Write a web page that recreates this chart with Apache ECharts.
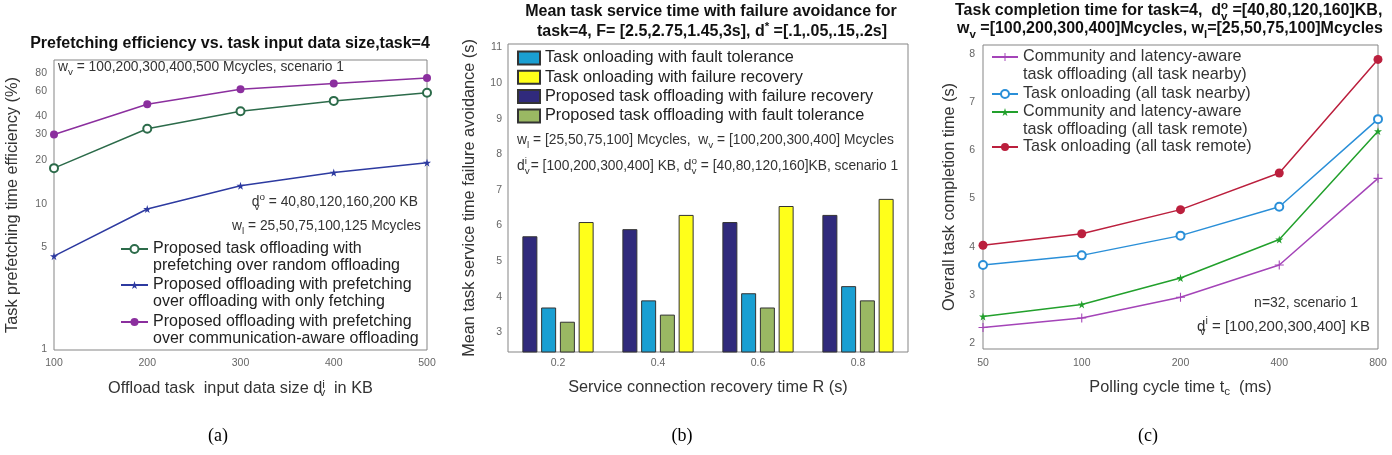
<!DOCTYPE html>
<html><head><meta charset="utf-8">
<script src="https://cdn.jsdelivr.net/npm/echarts@6/dist/echarts.min.js"></script>
<style>html,body{margin:0;padding:0;background:#fff}#c{width:1392px;height:455px}</style>
</head><body><div id="c"></div>
<script>
// ---------- data: (a) prefetching efficiency ----------
const aSizes = [100, 200, 300, 400, 500];
const aRandom = [17.6, 32.9, 43.4, 51.2, 58.2];
const aFetch = [4.35, 9.2, 13.3, 16.4, 19.2];
const aComm = [30, 48.5, 61.7, 67.6, 73.5];
const aYTicks = [1, 5, 10, 20, 30, 40, 60, 80];
// ---------- data: (b) mean task service time ----------
const bR = ['0.2', '0.4', '0.6', '0.8'];
const bPropRecovery = [5.7, 5.9, 6.1, 6.3];
const bOnFault = [3.7, 3.9, 4.1, 4.3];
const bPropFault = [3.3, 3.5, 3.7, 3.9];
const bOnRecovery = [6.1, 6.3, 6.55, 6.75];
const bYTicks = [3, 4, 5, 6, 7, 8, 9, 10, 11];
// ---------- data: (c) task completion time ----------
const cPoll = ['50', '100', '200', '400', '800'];
const cCommNear = [2.32, 2.52, 2.95, 3.62, 5.42];
const cOnNear = [3.62, 3.82, 4.23, 4.83, 6.65];
const cCommRemote = [2.55, 2.8, 3.35, 4.15, 6.4];
const cOnRemote = [4.03, 4.27, 4.77, 5.53, 7.89];
const cYTicks = [2, 3, 4, 5, 6, 7, 8];

// ---------- names ----------
const aNames = ['Proposed task offloading with\nprefetching over random offloading',
  'Proposed offloading with prefetching\nover offloading with only fetching',
  'Proposed offloading with prefetching\nover communication-aware offloading'];
const bNames = ['Task onloading with fault tolerance', 'Task onloading with failure recovery',
  'Proposed task offloading with failure recovery', 'Proposed task offloading with fault tolerance'];
const cNames = ['Community and latency-aware\ntask offloading (all task nearby)', 'Task onloading (all task nearby)',
  'Community and latency-aware\ntask offloading (all task remote)', 'Task onloading (all task remote)'];

const F = '"Liberation Sans", Arial, Helvetica, sans-serif';
function richSet(fs, color, weight) {
  const base = {fontFamily: F, fontWeight: weight || 'normal', color: color, fill: color};
  const s = Math.round(fs * 0.72 * 10) / 10;
  return {
    sub: Object.assign({}, base, {fontSize: s, lineHeight: s, verticalAlign: 'bottom'}),
    sup: Object.assign({}, base, {fontSize: s, lineHeight: s, verticalAlign: 'top'}),
    sub0: Object.assign({}, base, {fontSize: s, lineHeight: s, verticalAlign: 'bottom', width: 0})
  };
}
function gtext(x, y, text, fs, opt) {
  opt = opt || {};
  const color = opt.color || '#333';
  return {
    type: 'text', x: x, y: y, silent: true, z: 50,
    style: {
      text: text, fill: color, fontSize: fs, fontFamily: opt.family || F, fontWeight: opt.weight || 'normal',
      align: opt.align || 'left', verticalAlign: 'middle', lineHeight: Math.round(fs * 1.45),
      rich: richSet(fs, color, opt.weight)
    }
  };
}

const starPath = 'path://M50,0 L61,35 L98,35 L68,57 L79,91 L50,70 L21,91 L32,57 L2,35 L39,35 Z';
const plusPath = 'path://M4.4,0H5.6V4.4H10V5.6H5.6V10H4.4V5.6H0V4.4H4.4Z';

const tickLbl = {color: '#666', fontSize: 10.5, fontFamily: F};
const NFS = 16.3;
const nameStyle = {color: '#333', fontSize: NFS, fontFamily: F, lineHeight: 20};
const gridBase = {show: true, borderColor: '#858585', borderWidth: 1, backgroundColor: 'transparent', containLabel: false};
const noLine = {show: false};

const aColors = ['#2c6b4a', '#2d3aa0', '#8b2f9e'];
const bColors = {onFault: '#1a9fd2', onRec: '#ffff1a', propRec: '#302a7c', propFault: '#9ab863'};
const cColors = ['#a444b8', '#2a8fd8', '#22a02c', '#bb1f3d'];

function pairs(xs, ys) { return xs.map((x, i) => [x, ys[i]]); }
// prefix an empty line so the legend symbol lines up with the first text line
const firstLine = n => (n.indexOf('\n') >= 0 ? '\n' + n : n);

const option = {
  animation: false,
  backgroundColor: '#fff',
  grid: [
    Object.assign({left: 54, top: 60, width: 373, height: 290}, gridBase),
    Object.assign({left: 508, top: 44, width: 400, height: 308}, gridBase),
    Object.assign({left: 983, top: 45, width: 395, height: 304}, gridBase)
  ],
  xAxis: [
    {gridIndex: 0, type: 'value', min: 100, max: 500, interval: 100, axisLine: noLine, axisTick: noLine,
      splitLine: noLine, axisLabel: Object.assign({margin: 8}, tickLbl),
      name: 'Offload task  input data size d{sub0|v}{sup|i}  in KB', nameLocation: 'middle', nameGap: 29,
      nameTextStyle: Object.assign({rich: richSet(NFS, '#333')}, nameStyle)},
    {gridIndex: 1, type: 'category', data: bR, axisLine: noLine, axisTick: noLine,
      axisLabel: Object.assign({margin: 6}, tickLbl),
      name: 'Service connection recovery time R (s)', nameLocation: 'middle', nameGap: 26, nameTextStyle: nameStyle},
    {gridIndex: 2, type: 'category', data: cPoll, boundaryGap: false, axisLine: noLine, axisTick: noLine,
      axisLabel: Object.assign({margin: 9}, tickLbl),
      name: 'Polling cycle time t{sub|c}  (ms)', nameLocation: 'middle', nameGap: 29,
      nameTextStyle: Object.assign({rich: richSet(NFS, '#333')}, nameStyle)}
  ],
  yAxis: [
    {gridIndex: 0, type: 'log', logBase: 10, min: 0.98, max: 98, axisLine: noLine, axisTick: noLine, splitLine: noLine,
      axisLabel: Object.assign({margin: 7, customValues: aYTicks}, tickLbl),
      name: 'Task prefetching time efficiency (%)', nameLocation: 'middle', nameGap: 31, nameTextStyle: nameStyle},
    {gridIndex: 1, type: 'value', min: 2.45, max: 11.1, axisLine: noLine, axisTick: noLine, splitLine: noLine,
      axisLabel: Object.assign({margin: 6, customValues: bYTicks}, tickLbl),
      name: 'Mean task service time failure avoidance (s)', nameLocation: 'middle', nameGap: 28, nameTextStyle: nameStyle},
    {gridIndex: 2, type: 'value', min: 1.875, max: 8.19, axisLine: noLine, axisTick: noLine, splitLine: noLine,
      axisLabel: Object.assign({margin: 8, customValues: cYTicks}, tickLbl),
      name: 'Overall task completion time (s)', nameLocation: 'middle', nameGap: 23, nameTextStyle: nameStyle}
  ],
  legend: [
    ...[0, 1, 2].map(i => ({
      data: [aNames[i]], orient: 'vertical', left: 120, top: [249, 285, 322][i] - 25.5, padding: 0,
      itemWidth: 27, itemHeight: 10, selectedMode: false, formatter: firstLine,
      textStyle: {color: '#222', fontSize: 16, fontFamily: F, lineHeight: 17}
    })),
    {data: bNames, orient: 'vertical', left: 517, top: 48.5, padding: 0, itemGap: 0.3, itemWidth: 22, itemHeight: 13,
      icon: 'rect', selectedMode: false,
      textStyle: {color: '#222', fontSize: 16.3, fontFamily: F, lineHeight: 19}},
    ...[0, 1, 2, 3].map(i => {
      const two = cNames[i].indexOf('\n') >= 0;
      const y = [57, 94, 112, 147][i];
      return {
        data: [cNames[i]], orient: 'vertical', left: 991, top: two ? y - 27 : y - 9, padding: 0,
        itemWidth: 26, itemHeight: 10, selectedMode: false, formatter: firstLine,
        textStyle: {color: '#333', fontSize: 16.2, fontFamily: F, lineHeight: 18}
      };
    })
  ],
  series: [
    {name: aNames[0], type: 'line', xAxisIndex: 0, yAxisIndex: 0, data: pairs(aSizes, aRandom),
      symbol: 'emptyCircle', symbolSize: 8, color: aColors[0], lineStyle: {width: 1.5, color: aColors[0]},
      itemStyle: {color: aColors[0], borderWidth: 1.5}},
    {name: aNames[1], type: 'line', xAxisIndex: 0, yAxisIndex: 0, data: pairs(aSizes, aFetch),
      symbol: starPath, symbolSize: 8, color: aColors[1], lineStyle: {width: 1.5, color: aColors[1]},
      itemStyle: {color: aColors[1]}},
    {name: aNames[2], type: 'line', xAxisIndex: 0, yAxisIndex: 0, data: pairs(aSizes, aComm),
      symbol: 'circle', symbolSize: 8, color: aColors[2], lineStyle: {width: 1.5, color: aColors[2]},
      itemStyle: {color: aColors[2]}},

    {name: bNames[2], type: 'bar', xAxisIndex: 1, yAxisIndex: 1, data: bPropRecovery, barWidth: 15, barGap: '25%',
      itemStyle: {color: bColors.propRec, borderColor: '#333', borderWidth: 1}},
    {name: bNames[0], type: 'bar', xAxisIndex: 1, yAxisIndex: 1, data: bOnFault, barWidth: 15, barGap: '25%',
      itemStyle: {color: bColors.onFault, borderColor: '#333', borderWidth: 1}},
    {name: bNames[3], type: 'bar', xAxisIndex: 1, yAxisIndex: 1, data: bPropFault, barWidth: 15, barGap: '25%',
      itemStyle: {color: bColors.propFault, borderColor: '#333', borderWidth: 1}},
    {name: bNames[1], type: 'bar', xAxisIndex: 1, yAxisIndex: 1, data: bOnRecovery, barWidth: 15, barGap: '25%',
      itemStyle: {color: bColors.onRec, borderColor: '#333', borderWidth: 1}},

    {name: cNames[0], type: 'line', xAxisIndex: 2, yAxisIndex: 2, data: cCommNear,
      symbol: plusPath, symbolSize: 9, color: cColors[0], lineStyle: {width: 1.5, color: cColors[0]},
      itemStyle: {color: cColors[0]}},
    {name: cNames[1], type: 'line', xAxisIndex: 2, yAxisIndex: 2, data: cOnNear,
      symbol: 'emptyCircle', symbolSize: 8, color: cColors[1], lineStyle: {width: 1.5, color: cColors[1]},
      itemStyle: {color: cColors[1], borderWidth: 1.5}},
    {name: cNames[2], type: 'line', xAxisIndex: 2, yAxisIndex: 2, data: cCommRemote,
      symbol: starPath, symbolSize: 8, color: cColors[2], lineStyle: {width: 1.5, color: cColors[2]},
      itemStyle: {color: cColors[2]}},
    {name: cNames[3], type: 'line', xAxisIndex: 2, yAxisIndex: 2, data: cOnRemote,
      symbol: 'circle', symbolSize: 9, color: cColors[3], lineStyle: {width: 1.5, color: cColors[3]},
      itemStyle: {color: cColors[3]}}
  ],
  graphic: [
    // titles
    gtext(230, 44, 'Prefetching efficiency vs. task input data size,task=4', 16, {weight: 'bold', align: 'center', color: '#111'}),
    gtext(711, 12, 'Mean task service time with failure avoidance for', 16, {weight: 'bold', align: 'center', color: '#111'}),
    gtext(712, 32, 'task=4, F= [2.5,2.75,1.45,3s], d{sup|*} =[.1,.05,.15,.2s]', 16, {weight: 'bold', align: 'center', color: '#111'}),
    gtext(955, 11, 'Task completion time for task=4,  d{sub0|v}{sup|o} =[40,80,120,160]KB,', 16, {weight: 'bold', color: '#111'}),
    gtext(957, 29, 'w{sub|v} =[100,200,300,400]Mcycles, w{sub|l}=[25,50,75,100]Mcycles', 16, {weight: 'bold', color: '#111'}),
    // (a) notes
    gtext(58, 67, 'w{sub|v} = 100,200,300,400,500 Mcycles, scenario 1', 13.8),
    gtext(418, 202, 'd{sub0|v}{sup|o} = 40,80,120,160,200 KB', 13.8, {align: 'right'}),
    gtext(421, 226, 'w{sub|l} = 25,50,75,100,125 Mcycles', 13.8, {align: 'right'}),
    // (b) notes
    gtext(517, 140, 'w{sub|l} = [25,50,75,100] Mcycles,  w{sub|v} = [100,200,300,400] Mcycles', 13.8),
    gtext(517, 166, 'd{sub0|v}{sup|i} = [100,200,300,400] KB, d{sub0|v}{sup|o} = [40,80,120,160]KB, scenario 1', 13.8),
    // (c) notes
    gtext(1358, 303, 'n=32, scenario 1', 14, {align: 'right'}),
    gtext(1370, 327, 'd{sub0|v}{sup|i} = [100,200,300,400] KB', 15, {align: 'right'}),
    // captions
    gtext(218, 436, '(a)', 18, {align: 'center', family: '"Liberation Serif", "DejaVu Serif", serif', color: '#000'}),
    gtext(682, 436, '(b)', 18, {align: 'center', family: '"Liberation Serif", "DejaVu Serif", serif', color: '#000'}),
    gtext(1148, 436, '(c)', 18, {align: 'center', family: '"Liberation Serif", "DejaVu Serif", serif', color: '#000'})
  ]
};

const chart = echarts.init(document.getElementById('c'), null, {renderer: 'canvas'});
chart.setOption(option);
</script>
</body></html>
